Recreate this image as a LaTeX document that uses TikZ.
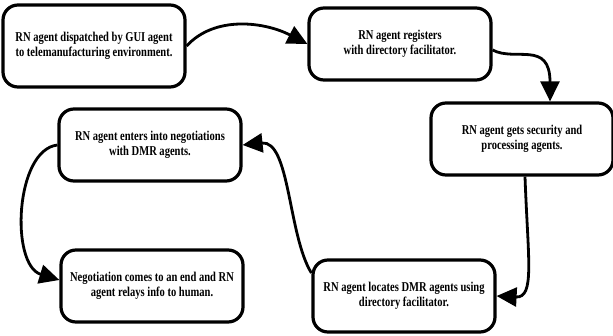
\documentclass[tikz,border=0pt]{standalone}
\usepackage{fontspec}
\setmainfont{Liberation Serif}[FakeStretch=0.78]
\usetikzlibrary{shapes,arrows,arrows.meta,positioning,calc}

\begin{document}
\begin{tikzpicture}[
    x=1pt, y=-1pt,
    stage/.style={rectangle, draw, rounded corners=15pt, line width=3.2pt, align=center,
        minimum width=182pt, minimum height=72pt, inner sep=2pt,
        font=\fontsize{13.5}{15.5}\selectfont\bfseries},
    flow/.style={-{Triangle[length=20pt, width=19pt]}, line width=2.8pt},
]
\useasboundingbox (0,0) rectangle (613,336);

% Stages (clockwise from top left)
\node[stage, minimum height=82pt] (disp) at (94, 46) {RN agent dispatched by GUI agent\\to telemanufacturing environment.};
\node[stage] (reg) at (400, 44) {RN agent registers\\with directory facilitator.};
\node[stage] (sec) at (522, 139) {RN agent gets security and\\processing agents.};
\node[stage] (loc) at (404, 296) {RN agent locates DMR agents using\\directory facilitator.};
\node[stage] (neg) at (150, 145) {RN agent enters into negotiations\\with DMR agents.};
\node[stage] (done) at (152, 286) {Negotiation comes to an end and RN\\agent relays info to human.};

% Edges
\draw[flow] (disp.east) .. controls (215, 15) and (265, 22) .. (reg.west);
\draw[flow] ($(reg.east)+(0,6)$) .. controls (515, 62) and (550, 40) .. ($(sec.north)+(28,0)$);
\draw[flow] ($(sec.south)+(3,0)$) .. controls (528, 260) and (535, 298) .. (loc.east);
\draw[flow] ($(loc.west)+(0,-23)$) .. controls (288, 235) and (290, 140) .. (neg.east);
\draw[flow] (neg.west) .. controls (15, 150) and (10, 265) .. ($(done.west)+(0,-6)$);
\end{tikzpicture}
\end{document}
